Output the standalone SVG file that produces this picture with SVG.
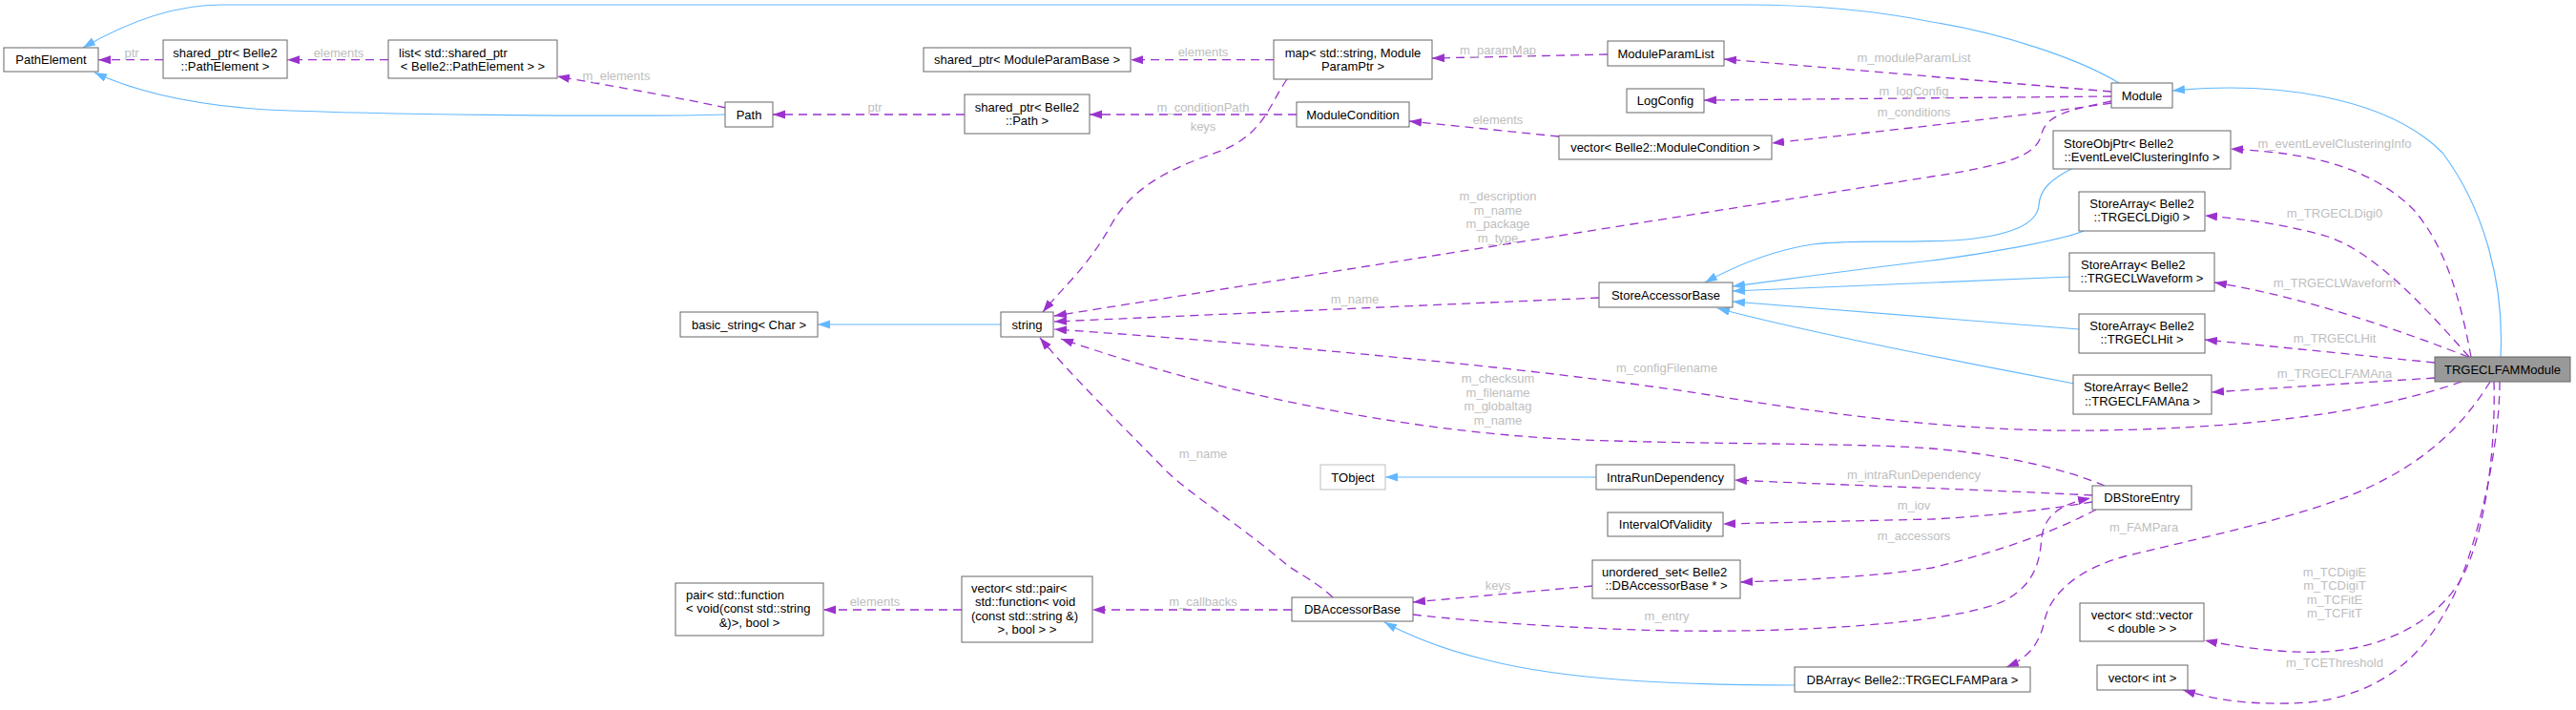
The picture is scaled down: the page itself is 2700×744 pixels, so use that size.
<svg xmlns="http://www.w3.org/2000/svg" width="2700" height="744" viewBox="0 0 2700 744">
<style>
.bg{fill:#ffffff}
.n rect{fill:#ffffff;stroke:#666666;stroke-width:1}
.n text{font-family:"Liberation Sans",Arial,sans-serif;font-size:13px;fill:#000000}
.m{text-anchor:middle}
.ext rect{stroke:#bfbfbf}
.focus rect{fill:#999999}
.inh{fill:none;stroke:#63b8ff;stroke-width:1.2;marker-end:url(#ab)}
.use{fill:none;stroke:#9a32cd;stroke-width:1.3;stroke-dasharray:9,6;marker-end:url(#ap)}
.lbl{font-family:"Liberation Sans",Arial,sans-serif;font-size:13px;fill:#bebebe;text-anchor:middle}
</style>
<defs>
<marker id="ap" markerWidth="14" markerHeight="10" refX="13" refY="4.5" orient="auto" markerUnits="userSpaceOnUse"><path d="M0,0 L13,4.5 L0,9 z" fill="#9a32cd"/></marker>
<marker id="ab" markerWidth="14" markerHeight="10" refX="13" refY="4.5" orient="auto" markerUnits="userSpaceOnUse"><path d="M0,0 L13,4.5 L0,9 z" fill="#63b8ff"/></marker>
</defs>
<rect class="bg" x="0" y="0" width="2700" height="744"/>
<g id="edges">
<path class="inh" d="M2221,87 C2180,62 2100,35 2025,23 C1960,10 1900,5 1830,5 L232,5 C175,5 125,28 87,50"/>
<path class="inh" d="M760,120 C700,122 450,122 280,115 C200,110 140,95 99,76"/>
<path class="inh" d="M1049,340 L857,340"/>
<path class="inh" d="M1673,500 L1452,500"/>
<path class="inh" d="M1881,718 C1750,718 1640,712 1560,692 C1510,680 1475,665 1451,652"/>
<path class="inh" d="M2171,177 C2150,188 2138,198 2137,215 C2135,238 2100,247 2060,251 C2000,256 1950,250 1900,256 C1860,262 1820,278 1787,296"/>
<path class="inh" d="M2184,242 C2160,252 2080,266 2025,273 C1940,283 1870,293 1816,300"/>
<path class="inh" d="M2169,290 L1816,305"/>
<path class="inh" d="M2179,345 L1816,316"/>
<path class="inh" d="M2174,402 C2100,388 1900,350 1800,323"/>
<path class="inh" d="M2621,374 C2625,300 2605,220 2560,160 C2500,100 2380,85 2277,95"/>

<path class="use" d="M171,62.7 L103,62.7"/>
<path class="use" d="M407,62.7 L301,62.7"/>
<path class="use" d="M761,113 C700,100 640,90 584,80"/>
<path class="use" d="M1335,62.7 L1185,62.7"/>
<path class="use" d="M1011,120 L810,120"/>
<path class="use" d="M1359,120 L1142,120"/>
<path class="use" d="M1349,83 C1330,110 1325,140 1280,158 C1240,172 1190,190 1165,235 C1140,280 1115,300 1093,327"/>
<path class="use" d="M1685,57 L1501,61"/>
<path class="use" d="M2213,96 L1807,62"/>
<path class="use" d="M2213,101 L1786,105"/>
<path class="use" d="M2213,108 C2150,118 1950,140 1857,150"/>
<path class="use" d="M1634,143 L1477,127"/>
<path class="use" d="M2213,106 C2170,115 2145,120 2140,140 C2135,162 2110,172 2025,185 L1105,331"/>
<path class="use" d="M1676,312 L1105,337"/>
<path class="use" d="M2580,400 C2500,428 2380,448 2200,451 C2080,453 1950,440 1780,412 C1600,385 1350,362 1105,345"/>
<path class="use" d="M2206,509 C2180,498 2120,478 2025,470 C1950,464 1800,466 1660,461 C1500,455 1300,420 1112,355"/>
<path class="use" d="M1397,626 C1380,610 1360,600 1350,593 C1300,550 1250,520 1224,495 C1170,440 1120,390 1090,354"/>
<path class="use" d="M1354,639 L1145,639"/>
<path class="use" d="M1008,639 L863,639"/>
<path class="use" d="M1669,614 L1481,631"/>
<path class="use" d="M1481,644 C1550,652 1700,663 1823,661 C1950,659 2060,648 2100,630 C2135,612 2138,585 2140,563 C2143,540 2160,528 2191,522"/>
<path class="use" d="M2197,534 C2170,548 2120,572 2025,595 C1960,605 1880,608 1824,610"/>
<path class="use" d="M2193,519 C2100,514 1900,507 1818,503"/>
<path class="use" d="M2193,526 C2140,535 2070,542 2025,544 L1806,549"/>
<path class="use" d="M2590,374 C2580,320 2565,260 2530,220 C2480,170 2410,160 2338,156"/>
<path class="use" d="M2588,374 C2540,320 2490,265 2440,248 C2400,236 2350,229 2311,226"/>
<path class="use" d="M2587,374 C2520,348 2420,312 2321,296"/>
<path class="use" d="M2552,380 L2311,356"/>
<path class="use" d="M2552,396 L2318,411"/>
<path class="use" d="M2610,400 C2585,440 2550,480 2480,512 C2420,540 2300,565 2227,583 C2180,596 2150,620 2143,650 C2138,675 2125,690 2103,699"/>
<path class="use" d="M2614,400 C2616,470 2605,560 2580,606 C2555,650 2500,680 2434,683 C2390,685 2340,677 2311,671"/>
<path class="use" d="M2620,400 C2620,480 2590,600 2560,646 C2530,700 2480,730 2420,736 C2360,740 2320,733 2288,723"/>

<text class="lbl" x="138" y="59.5">ptr</text>
<text class="lbl" x="355" y="59.5">elements</text>
<text class="lbl" x="646" y="83.5">m_elements</text>
<text class="lbl" x="1261" y="58.5">elements</text>
<text class="lbl" x="917" y="116.5">ptr</text>
<text class="lbl" x="1261" y="116.5">m_conditionPath</text>
<text class="lbl" x="1261" y="136.5">keys</text>
<text class="lbl" x="1570" y="56.5">m_paramMap</text>
<text class="lbl" x="2006" y="64.5">m_moduleParamList</text>
<text class="lbl" x="2006" y="99.5">m_logConfig</text>
<text class="lbl" x="2006" y="121.5">m_conditions</text>
<text class="lbl" x="1570" y="129.5">elements</text>
<text class="lbl" x="1570" y="209.5">m_description</text>
<text class="lbl" x="1570" y="224.5">m_name</text>
<text class="lbl" x="1570" y="239">m_package</text>
<text class="lbl" x="1570" y="254">m_type</text>
<text class="lbl" x="2447" y="154.5">m_eventLevelClusteringInfo</text>
<text class="lbl" x="2447" y="227.5">m_TRGECLDigi0</text>
<text class="lbl" x="1420" y="317.5">m_name</text>
<text class="lbl" x="2447" y="300.5">m_TRGECLWaveform</text>
<text class="lbl" x="2447" y="358.5">m_TRGECLHit</text>
<text class="lbl" x="2447" y="395.5">m_TRGECLFAMAna</text>
<text class="lbl" x="1747" y="389.5">m_configFilename</text>
<text class="lbl" x="1570" y="400.5">m_checksum</text>
<text class="lbl" x="1570" y="415.5">m_filename</text>
<text class="lbl" x="1570" y="429.5">m_globaltag</text>
<text class="lbl" x="1570" y="444.5">m_name</text>
<text class="lbl" x="1261" y="479.5">m_name</text>
<text class="lbl" x="2006" y="501.5">m_intraRunDependency</text>
<text class="lbl" x="2006" y="533.5">m_iov</text>
<text class="lbl" x="2006" y="565.5">m_accessors</text>
<text class="lbl" x="2247" y="556.5">m_FAMPara</text>
<text class="lbl" x="1570" y="617.5">keys</text>
<text class="lbl" x="1747" y="649.5">m_entry</text>
<text class="lbl" x="1261" y="634.5">m_callbacks</text>
<text class="lbl" x="917" y="634.5">elements</text>
<text class="lbl" x="2447" y="603.5">m_TCDigiE</text>
<text class="lbl" x="2447" y="618">m_TCDigiT</text>
<text class="lbl" x="2447" y="632.5">m_TCFitE</text>
<text class="lbl" x="2447" y="647">m_TCFitT</text>
<text class="lbl" x="2447" y="698.5">m_TCEThreshold</text>
</g>

<g id="n_PathElement" class="n"><rect x="4" y="50" width="99" height="25"/><text class="m" x="53.5" y="67">PathElement</text></g>
<g id="n_shared_ptr_PathElement" class="n"><rect x="171" y="42" width="130" height="40"/><text class="m" x="236" y="59.5">shared_ptr&lt; Belle2</text><text class="m" x="236" y="73.5">::PathElement &gt;</text></g>
<g id="n_list" class="n"><rect x="407" y="42" width="177" height="40"/><text x="418" y="59.5">list&lt; std::shared_ptr</text><text class="m" x="495.5" y="73.5">&lt; Belle2::PathElement &gt; &gt;</text></g>
<g id="n_Path" class="n"><rect x="760" y="107" width="50" height="26"/><text class="m" x="785" y="124.5">Path</text></g>
<g id="n_shared_ptr_ModuleParamBase" class="n"><rect x="968" y="50" width="217" height="25"/><text class="m" x="1076.5" y="67">shared_ptr&lt; ModuleParamBase &gt;</text></g>
<g id="n_shared_ptr_Path" class="n"><rect x="1011" y="99" width="131" height="41"/><text class="m" x="1076.5" y="116.5">shared_ptr&lt; Belle2</text><text class="m" x="1076.5" y="130.5">::Path &gt;</text></g>
<g id="n_map" class="n"><rect x="1335" y="42" width="166" height="41"/><text class="m" x="1418" y="59.5">map&lt; std::string, Module</text><text class="m" x="1418" y="73.5">ParamPtr &gt;</text></g>
<g id="n_ModuleParamList" class="n"><rect x="1685" y="43" width="122" height="26"/><text class="m" x="1746" y="60.5">ModuleParamList</text></g>
<g id="n_LogConfig" class="n"><rect x="1705" y="93" width="81" height="25"/><text class="m" x="1745.5" y="110">LogConfig</text></g>
<g id="n_ModuleCondition" class="n"><rect x="1359" y="107" width="118" height="26"/><text class="m" x="1418" y="124.5">ModuleCondition</text></g>
<g id="n_vector_ModuleCondition" class="n"><rect x="1634" y="142" width="223" height="25"/><text class="m" x="1745.5" y="159">vector&lt; Belle2::ModuleCondition &gt;</text></g>
<g id="n_Module" class="n"><rect x="2213" y="87" width="64" height="26"/><text class="m" x="2245" y="104.5">Module</text></g>
<g id="n_StoreObjPtr" class="n"><rect x="2152" y="137" width="186" height="40"/><text x="2163" y="154.5">StoreObjPtr&lt; Belle2</text><text class="m" x="2245" y="168.5">::EventLevelClusteringInfo &gt;</text></g>
<g id="n_StoreArray_Digi0" class="n"><rect x="2179" y="201" width="132" height="41"/><text class="m" x="2245" y="217.5">StoreArray&lt; Belle2</text><text class="m" x="2245" y="232">::TRGECLDigi0 &gt;</text></g>
<g id="n_basic_string" class="n"><rect x="713" y="327" width="144" height="26"/><text class="m" x="785" y="344.5">basic_string&lt; Char &gt;</text></g>
<g id="n_string" class="n"><rect x="1049" y="327" width="55" height="26"/><text class="m" x="1076.5" y="344.5">string</text></g>
<g id="n_StoreAccessorBase" class="n"><rect x="1676" y="296" width="140" height="26"/><text class="m" x="1746" y="313.5">StoreAccessorBase</text></g>
<g id="n_StoreArray_Waveform" class="n"><rect x="2169" y="265" width="152" height="40"/><text x="2181" y="281.5">StoreArray&lt; Belle2</text><text class="m" x="2245" y="295.5">::TRGECLWaveform &gt;</text></g>
<g id="n_StoreArray_Hit" class="n"><rect x="2179" y="329" width="132" height="41"/><text class="m" x="2245" y="345.5">StoreArray&lt; Belle2</text><text class="m" x="2245" y="360">::TRGECLHit &gt;</text></g>
<g id="n_StoreArray_FAMAna" class="n"><rect x="2173" y="393" width="145" height="41"/><text x="2184" y="409.5">StoreArray&lt; Belle2</text><text class="m" x="2245.5" y="424.5">::TRGECLFAMAna &gt;</text></g>
<g id="n_TRGECLFAMModule" class="n focus"><rect x="2552" y="374" width="142" height="26"/><text class="m" x="2623" y="391.5">TRGECLFAMModule</text></g>
<g id="n_TObject" class="n ext"><rect x="1384" y="487" width="68" height="26"/><text class="m" x="1418" y="504.5">TObject</text></g>
<g id="n_IntraRunDependency" class="n"><rect x="1673" y="487" width="145" height="26"/><text class="m" x="1745.5" y="504.5">IntraRunDependency</text></g>
<g id="n_DBStoreEntry" class="n"><rect x="2193" y="509" width="104" height="25"/><text class="m" x="2245" y="526">DBStoreEntry</text></g>
<g id="n_IntervalOfValidity" class="n"><rect x="1685" y="537" width="121" height="25"/><text class="m" x="1745.5" y="554">IntervalOfValidity</text></g>
<g id="n_unordered_set" class="n"><rect x="1669" y="587" width="155" height="40"/><text x="1679" y="603.5">unordered_set&lt; Belle2</text><text class="m" x="1746.5" y="618">::DBAccessorBase * &gt;</text></g>
<g id="n_DBAccessorBase" class="n"><rect x="1354" y="626" width="127" height="25"/><text class="m" x="1417.5" y="643">DBAccessorBase</text></g>
<g id="n_pair" class="n"><rect x="708" y="611" width="155" height="55"/><text x="719" y="627.5">pair&lt; std::function</text><text x="719" y="642">&lt; void(const std::string</text><text class="m" x="785.5" y="656.5">&amp;)&gt;, bool &gt;</text></g>
<g id="n_vector_pair" class="n"><rect x="1008" y="604" width="137" height="69"/><text x="1018" y="620.5">vector&lt; std::pair&lt;</text><text x="1022" y="635">std::function&lt; void</text><text x="1018" y="649.5">(const std::string &amp;)</text><text class="m" x="1076.5" y="664">&gt;, bool &gt; &gt;</text></g>
<g id="n_DBArray" class="n"><rect x="1881" y="699" width="247" height="26"/><text class="m" x="2004.5" y="716.5">DBArray&lt; Belle2::TRGECLFAMPara &gt;</text></g>
<g id="n_vector_vector_double" class="n"><rect x="2180" y="632" width="130" height="40"/><text class="m" x="2245" y="648.5">vector&lt; std::vector</text><text class="m" x="2245" y="663">&lt; double &gt; &gt;</text></g>
<g id="n_vector_int" class="n"><rect x="2198" y="697" width="95" height="26"/><text class="m" x="2245.5" y="714.5">vector&lt; int &gt;</text></g>
</svg>
